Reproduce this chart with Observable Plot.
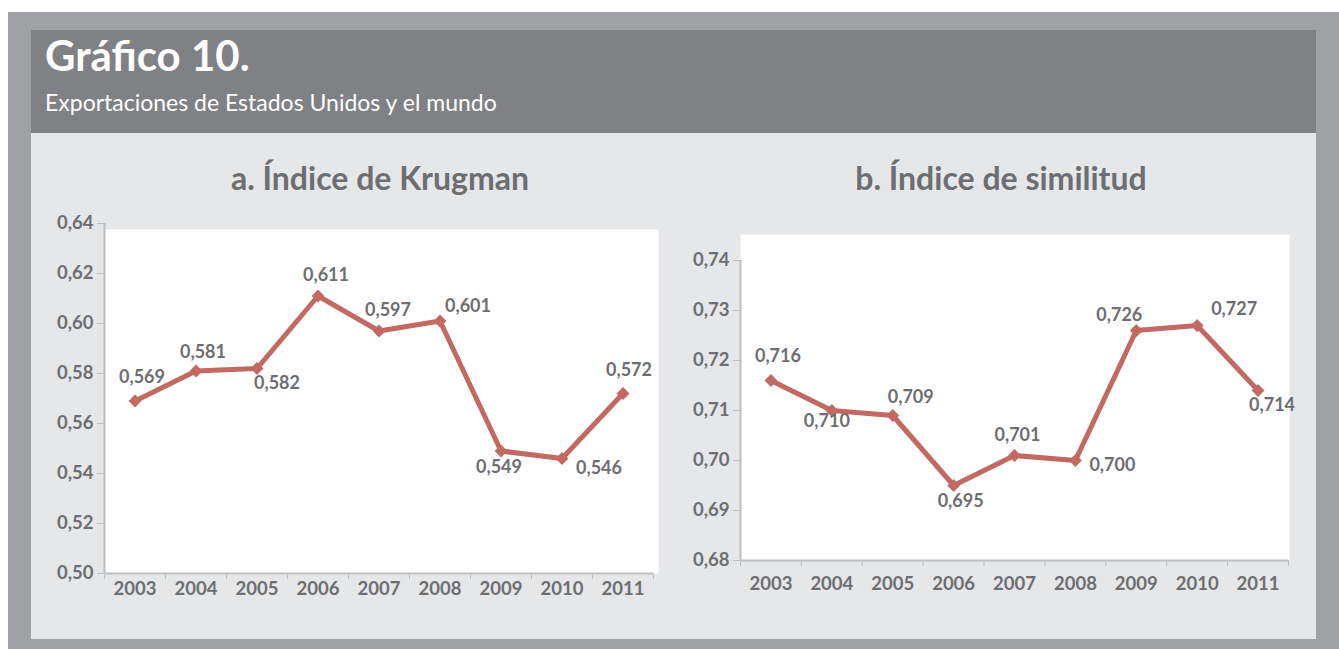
<!DOCTYPE html>
<html><head><meta charset="utf-8">
<script src="https://cdn.jsdelivr.net/npm/d3@7"></script>
<script src="https://cdn.jsdelivr.net/npm/@observablehq/plot@0.6"></script>
<style>
html,body{margin:0;padding:0;background:#fff;}
#page{position:relative;width:1339px;height:649px;overflow:hidden;font-family:Lato,"Open Sans",sans-serif;}
.abs{position:absolute;}
#outer{left:8px;top:12px;width:1331px;height:637px;background:#a0a1a4;}
#header{left:31px;top:30px;width:1285px;height:103px;background:#808184;}
#panel{left:31px;top:133px;width:1285px;height:506px;background:#e6e7e8;}
#title{left:45px;top:30px;color:#fff;font-size:42px;font-weight:bold;white-space:nowrap;}
#subtitle{left:45px;top:88px;color:#fff;font-size:23px;white-space:nowrap;}
.ct{color:#6d6e71;font-size:32px;font-weight:bold;white-space:nowrap;transform:translateX(-50%);top:158px;}
</style></head>
<body>
<div id="page">
  <div id="outer" class="abs"></div>
  <div id="header" class="abs"></div>
  <div id="panel" class="abs"></div>
  <div id="title" class="abs">Gráfico 10.</div>
  <div id="subtitle" class="abs">Exportaciones de Estados Unidos y el mundo</div>
  <div id="ta" class="abs ct" style="left:380px">a. Índice de Krugman</div>
  <div id="tb" class="abs ct" style="left:1001px">b. Índice de similitud</div>
  <div id="ca" class="abs" style="left:40px;top:200px"></div>
  <div id="cb" class="abs" style="left:680px;top:230px"></div>
</div>
<script>
const years = [2003, 2004, 2005, 2006, 2007, 2008, 2009, 2010, 2011];
const krugman = [0.569, 0.581, 0.582, 0.611, 0.597, 0.601, 0.549, 0.546, 0.572];
const similitud = [0.716, 0.710, 0.709, 0.695, 0.701, 0.700, 0.726, 0.727, 0.714];
const krugmanTicks = [0.50, 0.52, 0.54, 0.56, 0.58, 0.60, 0.62, 0.64];
const similitudTicks = [0.68, 0.69, 0.70, 0.71, 0.72, 0.73, 0.74];

const LINE = "#c26961";
const TXT = "#6d6e71";
const AX = "#bcbec0";
const comma = (f) => (v) => d3.format(f)(v).replace(".", ",");

function chart({values, yTicks, yDomain, offsets, marginLeft, marginRight, marginTop, height, frameInsetTop, frameInsetRight, xLabelPad}) {
  const data = years.map((y, i) => ({year: y, value: values[i]}));
  const halves = years.map(y => y - 0.5).concat([years[years.length - 1] + 0.5]);
  const labelMarks = data.map((d, i) => Plot.text([d], {
    x: "year", y: "value", text: d => comma(".3f")(d.value),
    dx: offsets[i][0], dy: offsets[i][1], fill: TXT,
    fontSize: 18, fontWeight: "bold"
  }));
  return Plot.plot({
    width: 628, height, marginLeft, marginRight,
    marginTop, marginBottom: 40,
    style: {background: "transparent", fontFamily: "Lato, 'Open Sans', sans-serif", overflow: "visible"},
    x: {domain: [years[0] - 0.5, years[years.length - 1] + 0.5]},
    y: {domain: yDomain},
    marks: [
      Plot.frame({fill: "white", stroke: null, insetTop: frameInsetTop, insetRight: frameInsetRight}),
      Plot.ruleX([years[0] - 0.5], {stroke: AX, strokeWidth: 2}),
      Plot.ruleY([yDomain[0]], {stroke: AX, strokeWidth: 2}),
      Plot.axisY({ticks: yTicks, tickSize: 7, tickPadding: 4, stroke: AX, fill: TXT,
        tickFormat: comma(".2f"), fontSize: 18.5, fontWeight: "bold", label: null}),
      Plot.axisX({ticks: halves, tickSize: 6, tickFormat: () => "", stroke: AX, label: null}),
      Plot.axisX({ticks: years, tickSize: 0, tickPadding: xLabelPad, fill: TXT,
        tickFormat: d => String(d), fontSize: 18.5, fontWeight: "bold", label: null}),
      Plot.line(data, {x: "year", y: "value", stroke: LINE, strokeWidth: 5}),
      Plot.dot(data, {x: "year", y: "value", symbol: "diamond2", r: 5.8, fill: LINE, stroke: null}),
      ...labelMarks
    ]
  });
}

document.getElementById("ca").append(chart({
  values: krugman, yTicks: krugmanTicks, yDomain: [0.50, 0.64],
  offsets: [[7,-24],[7,-19],[20,15],[8,-21],[9,-21],[28,-15],[-2,16],[37,10],[6,-23]],
  marginLeft: 64, marginRight: 15, marginTop: 23, height: 413, frameInsetTop: 6, frameInsetRight: -5, xLabelPad: 8
}));
document.getElementById("cb").append(chart({
  values: similitud, yTicks: similitudTicks, yDomain: [0.68, 0.74],
  offsets: [[7,-24],[-5,11],[18,-18],[7,16],[3,-20],[37,5],[-17,-15],[37,-16],[14,15]],
  marginLeft: 60, marginRight: 20, marginTop: 30, height: 370, frameInsetTop: -26, frameInsetRight: -1, xLabelPad: 16
}));
</script>
</body></html>
